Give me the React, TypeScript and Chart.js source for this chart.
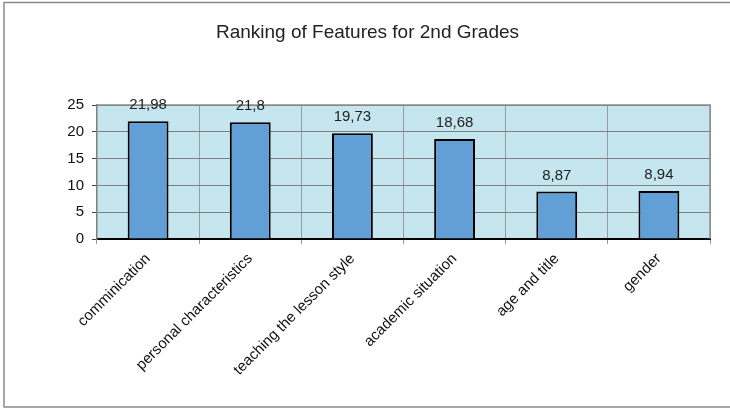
import React, { useEffect, useRef } from "react";
import { Chart, registerables } from "chart.js";

Chart.register(...registerables);

const categories = [
  "comminication",
  "personal characteristics",
  "teaching the lesson style",
  "academic situation",
  "age and title",
  "gender",
];
const values = [21.98, 21.8, 19.73, 18.68, 8.87, 8.94];
const valueLabels = ["21,98", "21,8", "19,73", "18,68", "8,87", "8,94"];
const yTicks = [0, 5, 10, 15, 20, 25];
const title = "Ranking of Features for 2nd Grades";

const FONT = "'Liberation Sans', Arial, sans-serif";

export default function App() {
  const ref = useRef<HTMLCanvasElement | null>(null);

  useEffect(() => {
    if (!ref.current) return;
    const decor = {
      id: "decor",
      beforeDraw(chart: any) {
        const { ctx, chartArea } = chart;
        ctx.save();
        ctx.fillStyle = "#ffffff";
        ctx.fillRect(0, 0, chart.width, chart.height);
        ctx.fillStyle = "#C5E6EE";
        ctx.fillRect(chartArea.left, chartArea.top, chartArea.right - chartArea.left, chartArea.bottom - chartArea.top);
        ctx.restore();
      },
      afterDraw(chart: any) {
        const { ctx, chartArea } = chart;
        ctx.save();
        ctx.strokeStyle = "#8a8a8a";
        ctx.lineWidth = 1.5;
        ctx.strokeRect(4, 2.5, 760, 404.5);
        ctx.strokeStyle = "#8c8c8c";
        ctx.lineWidth = 1.5;
        ctx.beginPath();
        ctx.moveTo(chartArea.left, chartArea.top);
        ctx.lineTo(chartArea.right, chartArea.top);
        ctx.lineTo(chartArea.right, chartArea.bottom);
        ctx.stroke();
        ctx.fillStyle = "#222222";
        ctx.font = `19px ${FONT}`;
        ctx.textAlign = "center";
        ctx.textBaseline = "middle";
        ctx.fillText(title, 367.5, 33);
        const meta = chart.getDatasetMeta(0);
        ctx.font = `15px ${FONT}`;
        ctx.fillStyle = "#222222";
        meta.data.forEach((bar: any, i: number) => {
          ctx.fillText(valueLabels[i], bar.x, bar.y - 16);
        });
        ctx.restore();
      },
    };

    const chart = new Chart(ref.current, {
      type: "bar",
      data: {
        labels: categories,
        datasets: [
          {
            data: values,
            backgroundColor: "#639FD7",
            borderColor: "#000000",
            borderWidth: 2,
            categoryPercentage: 1,
            barPercentage: 0.4,
          },
        ],
      },
      options: {
        animation: false,
        responsive: false,
        maintainAspectRatio: false,
        layout: { padding: { left: 0, top: 105, right: 20, bottom: 0 } },
        plugins: {
          legend: { display: false },
          title: { display: false },
          tooltip: { enabled: false },
        },
        scales: {
          x: {
            afterFit(scale: any) {
              scale.height = 169;
            },
            grid: {
              offset: true,
              color: "#9a9a9a",
              lineWidth: 1,
              drawTicks: true,
              tickLength: 5,
              tickColor: "#9a9a9a",
            },
            border: { color: "#000000", width: 2 },
            ticks: {
              color: "#111111",
              font: { family: FONT, size: 15 },
              maxRotation: 45,
              minRotation: 45,
              autoSkip: false,
              padding: 6,
            },
          },
          y: {
            min: 0,
            max: 25,
            afterFit(scale: any) {
              scale.width = 97;
            },
            afterBuildTicks(scale: any) {
              scale.ticks = yTicks.map((v) => ({ value: v }));
            },
            grid: {
              color: "#7f7f7f",
              lineWidth: 1,
              tickLength: 5,
              tickColor: "#444444",
            },
            border: { color: "#7f7f7f", width: 1.5 },
            ticks: {
              color: "#111111",
              font: { family: FONT, size: 15 },
              padding: 8,
            },
          },
        },
      },
      plugins: [decor],
    });
    return () => chart.destroy();
  }, []);

  return (
    <div style={{ position: "fixed", left: 0, top: 0, width: 730, height: 408, background: "#fff" }}>
      <canvas ref={ref} width={730} height={408} style={{ display: "block", width: 730, height: 408 }} />
    </div>
  );
}
